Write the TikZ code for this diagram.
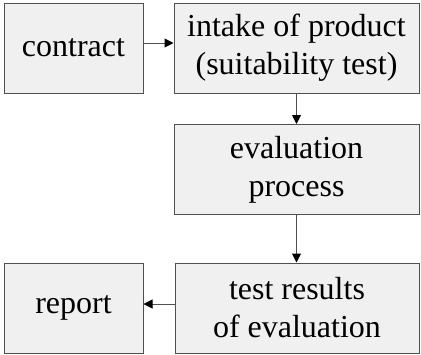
\documentclass[tikz,border=0pt]{standalone}
\usepackage{fontspec}
\setmainfont{Liberation Serif}
\newfontfamily\boxfont{Liberation Serif}
\usetikzlibrary{arrows.meta}
\definecolor{boxfill}{HTML}{F0F0F0}
\definecolor{boxline}{HTML}{505050}

\begin{document}
\begin{tikzpicture}
  [x=1pt,y=-1pt,
   every node/.style={draw=boxline,fill=boxfill,line width=1pt,inner sep=0pt,align=center,
     minimum height=90pt,font=\boxfont\fontsize{32}{38}\selectfont},
   flow/.style={draw=boxline,line width=1pt,-{Triangle[black,length=9pt,width=9pt]}}]
  \useasboundingbox (0,0) rectangle (421,354); % keep the margins of the page

  \node[minimum width=139pt] (contract) at (73.5,48)  {contract};
  \node[minimum width=245pt] (intake)   at (296.5,48) {intake of product\\(suitability test)};
  \node[minimum width=245pt] (eval)     at (296.5,169.5) {evaluation\\process};
  \node[minimum width=244pt] (results)  at (297,308)  {test results\\of evaluation};
  \node[minimum width=139pt] (report)   at (73.5,308) {report};

  \draw[flow] ([yshift=5pt]contract.east) -- ([yshift=5pt]intake.west);
  \draw[flow] (intake) -- (eval);
  \draw[flow] (eval.south) -- (eval.south |- results.north);
  \draw[flow] ([yshift=4pt]results.west) -- ([yshift=4pt]report.east);

\end{tikzpicture}
\end{document}
